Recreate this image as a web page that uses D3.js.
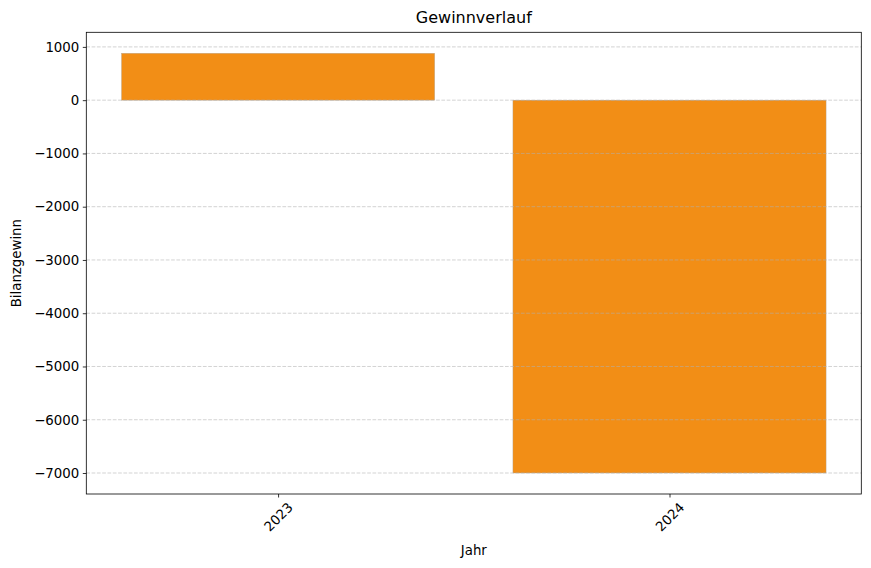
<!DOCTYPE html>
<html>
<head>
<meta charset="utf-8">
<script src="https://cdn.jsdelivr.net/npm/d3@7"></script>
<style>
  body { margin: 0; background: #fff; }
  svg { display: block; font-family: "DejaVu Sans", sans-serif; }
</style>
</head>
<body>
<svg id="chart" width="871" height="568"></svg>
<script>
// Data.
const years = ['2023', '2024'];
const profit = [880, -7000];
const yTicks = [1000, 0, -1000, -2000, -3000, -4000, -5000, -6000, -7000];

const W = 871, H = 568;
const m = { left: 86.3, right: 861.3, top: 32.3, bottom: 494 };
const svg = d3.select('#chart');

// matplotlib-style linear x positions with 5% margins
const x = d3.scaleLinear().domain([-0.49, 1.49]).range([m.left, m.right]);
const lo = d3.min(profit), hi = d3.max(profit), pad = (hi - Math.min(0, lo)) * 0.05;
const y = d3.scaleLinear().domain([lo - pad, hi + pad]).range([m.bottom, m.top]);

// bars
svg.append('g').selectAll('rect').data(profit).join('rect')
  .attr('x', (d, i) => x(i - 0.4))
  .attr('width', (d, i) => x(i + 0.4) - x(i - 0.4))
  .attr('y', d => y(Math.max(0, d)))
  .attr('height', d => Math.abs(y(d) - y(0)))
  .attr('fill', '#f28e16')
  .attr('stroke', '#b0a090').attr('stroke-width', 0.4);

// grid (over the bars, as in the reference)
svg.append('g').selectAll('line').data(yTicks).join('line')
  .attr('x1', m.left).attr('x2', m.right)
  .attr('y1', d => y(d)).attr('y2', d => y(d))
  .attr('stroke', '#b0b0b0').attr('stroke-opacity', 0.7)
  .attr('stroke-width', 0.8).attr('stroke-dasharray', '3.7,1.6');

// y axis
const yAxis = svg.append('g').attr('transform', `translate(${m.left},0)`)
  .call(d3.axisLeft(y).tickValues(yTicks).tickSize(3.5).tickPadding(3.5)
    .tickFormat(d => d < 0 ? '\u2212' + Math.abs(d) : String(d)));
yAxis.select('.domain').remove();
yAxis.selectAll('text').attr('font-size', 13.33).attr('fill', '#000')
  .attr('font-family', '"DejaVu Sans", sans-serif');
yAxis.selectAll('line').attr('stroke', '#000').attr('stroke-width', 0.8);

// x axis
const xAxis = svg.append('g').attr('transform', `translate(0,${m.bottom})`)
  .call(d3.axisBottom(x).tickValues([0, 1]).tickSize(3.5).tickFormat(i => years[i]));
xAxis.select('.domain').remove();
xAxis.selectAll('line').attr('stroke', '#000').attr('stroke-width', 0.8);
xAxis.selectAll('text').attr('font-size', 13.33).attr('fill', '#000')
  .attr('font-family', '"DejaVu Sans", sans-serif')
  .attr('text-anchor', 'middle').attr('dy', null).attr('y', 0)
  .attr('transform', 'translate(0,23) rotate(-45)')
  .attr('dominant-baseline', 'central');

// frame
svg.append('rect')
  .attr('x', m.left).attr('y', m.top)
  .attr('width', m.right - m.left).attr('height', m.bottom - m.top)
  .attr('fill', 'none').attr('stroke', '#000').attr('stroke-width', 0.8);

// labels
svg.append('text').attr('x', (m.left + m.right) / 2).attr('y', 23)
  .attr('text-anchor', 'middle').attr('font-size', 16).text('Gewinnverlauf');
svg.append('text').attr('x', (m.left + m.right) / 2).attr('y', 555)
  .attr('text-anchor', 'middle').attr('font-size', 13.33).text('Jahr');
svg.append('text')
  .attr('transform', `translate(21,${(m.top + m.bottom) / 2}) rotate(-90)`)
  .attr('text-anchor', 'middle').attr('font-size', 13.33).text('Bilanzgewinn');
</script>
</body>
</html>
